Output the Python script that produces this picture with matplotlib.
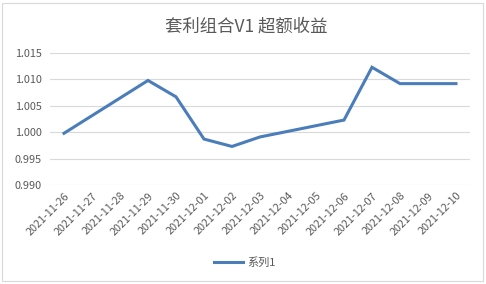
import numpy as np
import matplotlib
matplotlib.use("Agg")
import matplotlib.pyplot as plt
from matplotlib.patches import Rectangle

plt.rcParams['font.family'] = ['Noto Sans CJK SC', 'DejaVu Sans']

dates = ["2021-11-26", "2021-11-27", "2021-11-28", "2021-11-29", "2021-11-30",
         "2021-12-01", "2021-12-02", "2021-12-03", "2021-12-04", "2021-12-05",
         "2021-12-06", "2021-12-07", "2021-12-08", "2021-12-09", "2021-12-10"]
values = [0.9998, None, None, 1.0098, 1.0067,
          0.9987, 0.9973, 0.9991, None, None,
          1.0023, 1.0123, 1.0092, 1.0092, 1.0092]
yticks = [0.990, 0.995, 1.000, 1.005, 1.010, 1.015]
title = "套利组合V1 超额收益"
series_name = "系列1"

W, H = 486, 284
fig = plt.figure(figsize=(W / 100, H / 100), dpi=100)
fig.patch.set_facecolor("white")

# chart border
fig.patches.append(Rectangle((2 / W, 3 / H), 481 / W, 278 / H, transform=fig.transFigure,
                             fill=False, edgecolor="#D9D9D9", linewidth=0.8))

ax = fig.add_axes([50 / W, 1 - 185 / H, 420 / W, 132 / H])
xs = [i for i, v in enumerate(values) if v is not None]
ys = [v for v in values if v is not None]
line_color = "#4A7DBA"
ax.plot(xs, ys, color=line_color, linewidth=2.2, solid_joinstyle="miter",
        label=series_name)

ax.set_xlim(-0.5, len(dates) - 0.5)
ax.set_ylim(yticks[0], yticks[-1])
ax.set_yticks(yticks)
ax.set_yticklabels([f"{t:.3f}" for t in yticks])
ax.set_xticks(range(len(dates)))
ax.set_xticklabels(dates, rotation=45, ha="right", va="top", rotation_mode="anchor")
ax.grid(axis="y", color="#D9D9D9", linewidth=0.8)
ax.set_axisbelow(True)
for s in ax.spines.values():
    s.set_visible(False)
ax.tick_params(axis="both", length=0, labelsize=7.8, labelcolor="#595959")
ax.tick_params(axis="y", pad=6)
ax.tick_params(axis="x", pad=4)

fig.text(246 / W, 1 - 27 / H, title, ha="center", va="center", fontsize=12.5,
         color="#595959")

leg = fig.legend(loc="center", bbox_to_anchor=(245 / W, 1 - 263 / H), frameon=False,
                 fontsize=8, handlelength=2.6, handletextpad=0.4)
for t in leg.get_texts():
    t.set_color("#595959")

fig.savefig("out.png", dpi=100, facecolor="white")
